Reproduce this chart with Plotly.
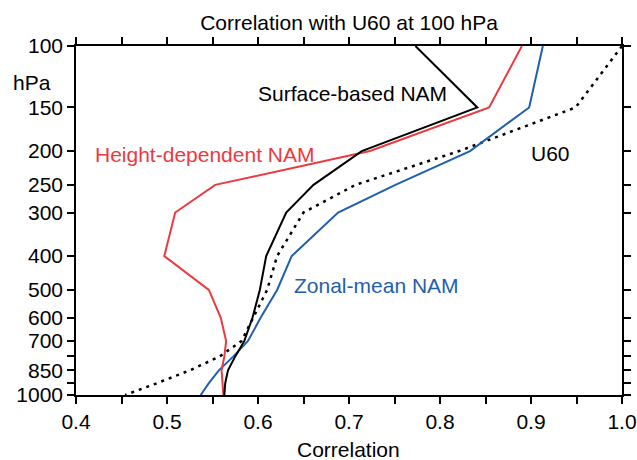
import plotly.graph_objects as go

# Pressure levels (hPa)
levels = [100, 150, 200, 250, 300, 400, 500, 600, 700, 775, 850, 925, 1000]

# Correlations
surface_nam = [0.773, 0.841, 0.714, 0.661, 0.631, 0.609, 0.602, 0.594, 0.585, 0.575, 0.567, 0.564, 0.563]
height_nam = [0.890, 0.854, 0.723, 0.553, 0.509, 0.497, 0.546, 0.559, 0.565, 0.563, 0.560, 0.561, 0.562]
zonal_nam = [0.913, 0.898, 0.833, 0.751, 0.688, 0.637, 0.621, 0.603, 0.589, 0.573, 0.557, 0.546, 0.537]
u60 = [1.000, 0.949, 0.821, 0.707, 0.650, 0.621, 0.610, 0.595, 0.582, 0.558, 0.525, 0.489, 0.454]

y_tickvals = [100, 150, 200, 250, 300, 400, 500, 600, 700, 775, 850, 925, 1000]
y_ticktext = ["100", "150", "200", "250", "300", "400", "500", "600", "700", "", "850", "", "1000"]
x_tickvals = [0.4, 0.5, 0.6, 0.7, 0.8, 0.9, 1.0]
x_ticktext = ["0.4", "0.5", "0.6", "0.7", "0.8", "0.9", "1.0"]
x_minor = [0.45, 0.55, 0.65, 0.75, 0.85, 0.95]

RED = "#ec3a40"
BLUE = "#1f5fae"
FONT = "Liberation Sans, Arial, Helvetica, sans-serif"
FS = 21

W, H = 637, 460
L, R, T, B = 76, 15, 46, 65
pw, ph = W - L - R, H - T - B

fig = go.Figure()
fig.add_trace(go.Scatter(x=u60, y=levels, mode="lines",
                         line=dict(color="black", width=2.5, dash="3px,5px")))
fig.add_trace(go.Scatter(x=zonal_nam, y=levels, mode="lines",
                         line=dict(color=BLUE, width=2)))
fig.add_trace(go.Scatter(x=height_nam, y=levels, mode="lines",
                         line=dict(color=RED, width=2)))
fig.add_trace(go.Scatter(x=surface_nam, y=levels, mode="lines",
                         line=dict(color="black", width=2)))

annots = [
    dict(text="Surface-based NAM", x=352, y=94, color="black"),
    dict(text="Height-dependent NAM", x=204, y=154, color=RED),
    dict(text="U60", x=550, y=153, color="black"),
    dict(text="Zonal-mean NAM", x=376, y=285, color=BLUE),
    dict(text="hPa", x=32, y=82, color="black"),
    dict(text="Correlation", x=348, y=450, color="black"),
]
for a in annots:
    fig.add_annotation(text=a["text"], x=(a["x"] - L) / pw, y=1 - (a["y"] - T) / ph,
                       xref="paper", yref="paper", showarrow=False,
                       xanchor="center", yanchor="middle",
                       font=dict(size=FS, color=a["color"], family=FONT))

axis_common = dict(showgrid=False, zeroline=False, showline=True, linecolor="black",
                   linewidth=1.5, mirror="ticks", ticks="outside", ticklen=7,
                   tickwidth=1.5, tickcolor="black", tickfont=dict(size=FS),
                   automargin=False)
fig.update_layout(
    width=W, height=H,
    margin=dict(l=L, r=R, t=T, b=B),
    paper_bgcolor="white", plot_bgcolor="white",
    showlegend=False,
    font=dict(family=FONT, size=FS, color="black"),
    title=dict(text="Correlation with U60 at 100 hPa", x=(L + pw / 2) / W,
               xanchor="center", y=1 - 23 / H, yanchor="middle",
               font=dict(size=FS, family=FONT)),
    xaxis=dict(range=[0.4, 1.0], tickvals=x_tickvals, ticktext=x_ticktext,
               minor=dict(tickvals=x_minor, ticks="outside", ticklen=7,
                          tickwidth=1.5, tickcolor="black", showgrid=False),
               **axis_common),
    yaxis=dict(type="log", range=[3, 2], tickvals=y_tickvals, ticktext=y_ticktext,
               **axis_common),
)
fig.write_html("out.html")
